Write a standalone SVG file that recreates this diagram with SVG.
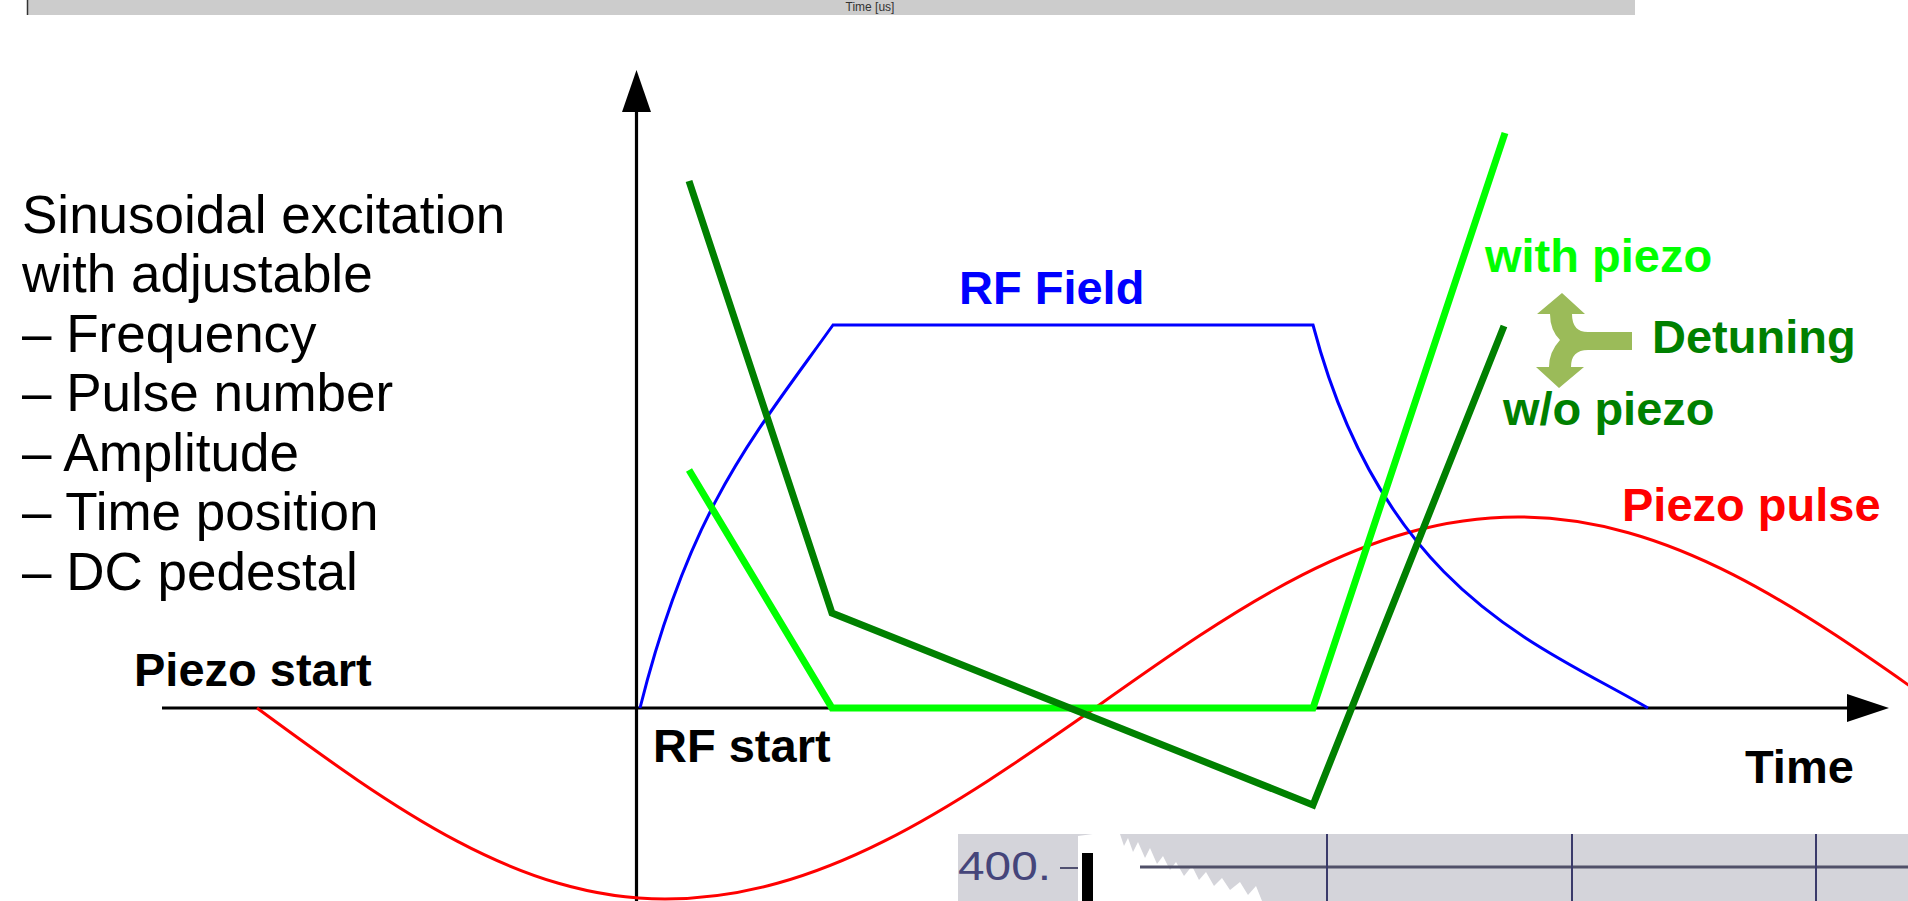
<svg xmlns="http://www.w3.org/2000/svg" width="1908" height="901" viewBox="0 0 1908 901">
  <style>
    .bold { font-family: "Liberation Sans", Arial, sans-serif; font-weight: bold; font-size: 47px; }
    .body { font-family: "Liberation Sans", Arial, sans-serif; font-size: 53px; fill: #000; }
    .axis { stroke: #000; stroke-width: 3.2; fill: none; }
    .curve { fill: none; stroke-linejoin: miter; }
  </style>
  <rect width="1908" height="901" fill="#ffffff"/>

  <!-- top strip (cropped screenshot) -->
  <g id="top-strip">
    <rect x="27" y="0" width="1608" height="15" fill="#cccccc"/>
    <line x1="27.5" y1="0" x2="27.5" y2="15" stroke="#333" stroke-width="1.5"/>
    <text x="870" y="11" text-anchor="middle" font-family="Liberation Sans, Arial, sans-serif" font-size="12" fill="#333">Time [us]</text>
  </g>

  <!-- bottom inset (cropped screenshot) -->
  <g id="inset">
    <rect x="958" y="834" width="950" height="67" fill="#d4d4da"/>
    <polygon fill="#ffffff" points="1078,901 1078,836 1100,833 1120,834 1124,846 1128,838 1133,852 1138,842 1145,858 1150,848 1157,864 1163,856 1170,870 1176,862 1184,876 1192,866 1199,880 1206,872 1214,886 1222,878 1230,890 1240,882 1248,895 1256,886 1262,901"/>
    <line x1="1140" y1="867" x2="1908" y2="867" stroke="#505068" stroke-width="3"/>
    <line x1="1327" y1="834" x2="1327" y2="901" stroke="#3a3a6a" stroke-width="2"/>
    <line x1="1572" y1="834" x2="1572" y2="901" stroke="#3a3a6a" stroke-width="2"/>
    <line x1="1816" y1="834" x2="1816" y2="901" stroke="#3a3a6a" stroke-width="2"/>
    <line x1="1060" y1="868" x2="1078" y2="868" stroke="#505070" stroke-width="2"/>
    <rect x="1082" y="853" width="11" height="48" fill="#000"/>
    <text x="958" y="880" font-family="Liberation Sans, Arial, sans-serif" font-size="40" fill="#45457a" textLength="93" lengthAdjust="spacingAndGlyphs">400.</text>
  </g>

  <!-- axes -->
  <g id="axes">
    <line class="axis" x1="162" y1="708" x2="1850" y2="708"/>
    <polygon points="1847,694 1889,708 1847,722" fill="#000"/>
    <line class="axis" x1="636.5" y1="110" x2="636.5" y2="901"/>
    <polygon points="622,112 636.5,70 651,112" fill="#000"/>
  </g>

  <!-- curves -->
  <g id="connectors">
    <path id="piezo-pulse" class="curve" stroke="#ff0000" stroke-width="3" d="M257,708 C393.4,808.3 518.2,899 665,899 C819.8,899 951.3,808.3 1095,708 C1236.4,607.7 1365.8,517 1518,517 C1670.2,517 1799.6,607.7 1941,708"/>
    <path id="rf-field" class="curve" stroke="#0000ff" stroke-width="3" d="M640,708 C690,508 753,437 833,325 L1313,325 C1383,591 1538,644 1648,708"/>
    <polyline id="with-piezo" class="curve" stroke="#00ff00" stroke-width="7" points="689,470 832,708 1313,708 1505,133"/>
    <polyline id="without-piezo" class="curve" stroke="#008000" stroke-width="7" points="689,181 832,613 1313,805 1504,326"/>
  </g>

  <!-- detuning arrow -->
  <g id="detuning-arrow">
    <path fill="#9bbb59" d="M1632,332 L1588,332 Q1572,332 1572,314 L1585,314 L1562,293 L1537,314 L1550,314 Q1550,330 1560,340 Q1549,352 1549,367 L1536,367 L1559,388 L1584,367 L1571,367 Q1571,350 1588,350 L1632,350 Z"/>
  </g>

  <!-- labels -->
  <g id="description">
    <text class="body" x="22" y="233">Sinusoidal excitation</text>
    <text class="body" x="22" y="292">with adjustable</text>
    <text class="body" x="22" y="352">– Frequency</text>
    <text class="body" x="22" y="411">– Pulse number</text>
    <text class="body" x="22" y="471">– Amplitude</text>
    <text class="body" x="22" y="530">– Time position</text>
    <text class="body" x="22" y="590">– DC pedestal</text>
  </g>
  <g id="label-piezo-start"><text class="bold" x="134" y="686" fill="#000">Piezo start</text></g>
  <g id="label-rf-start"><text class="bold" x="653" y="762" fill="#000">RF start</text></g>
  <g id="label-time"><text class="bold" x="1745" y="783" fill="#000">Time</text></g>
  <g id="label-rf-field"><text class="bold" x="959" y="304" fill="#0000ff">RF Field</text></g>
  <g id="label-piezo-pulse"><text class="bold" x="1622" y="521" fill="#ff0000">Piezo pulse</text></g>
  <g id="label-with-piezo"><text class="bold" x="1485" y="272" fill="#00ff00">with piezo</text></g>
  <g id="label-detuning"><text class="bold" x="1652" y="353" fill="#008000">Detuning</text></g>
  <g id="label-wo-piezo"><text class="bold" x="1503" y="425" fill="#008000">w/o piezo</text></g>
</svg>
